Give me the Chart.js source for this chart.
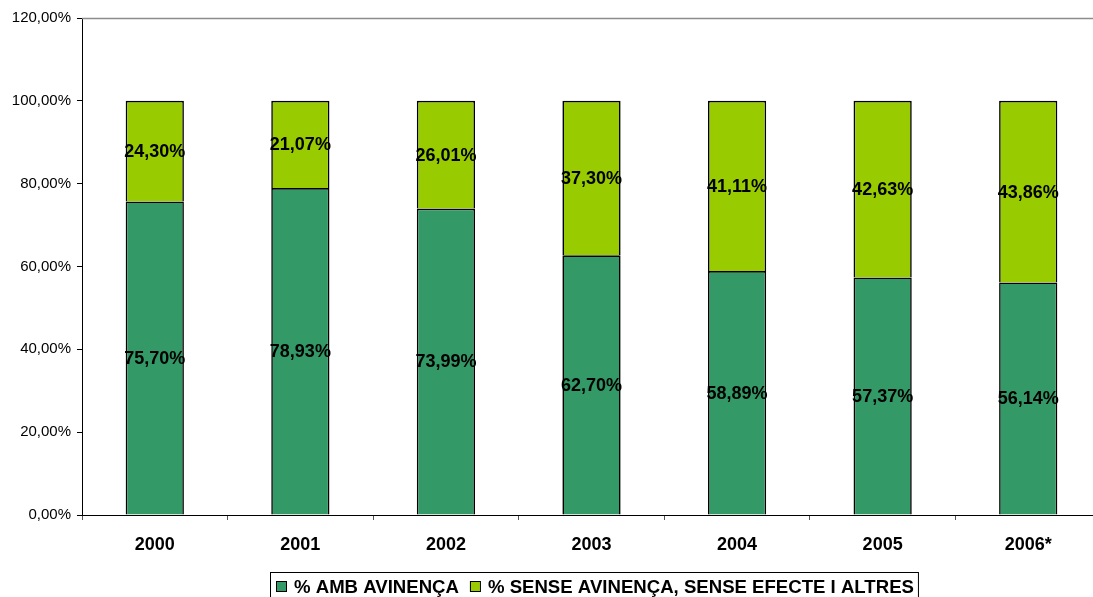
<!DOCTYPE html>
<html>
<head>
<meta charset="utf-8">
<script src="https://cdn.jsdelivr.net/npm/chart.js@4.4.0/dist/chart.umd.min.js"></script>
<style>
  html, body { margin: 0; padding: 0; overflow: hidden; background: #fff; }
  #wrap { width: 1101px; height: 597px; position: relative; }
</style>
</head>
<body>
<div id="wrap"><canvas id="myChart"></canvas></div>
<script>
// Years and shares
const years = ['2000', '2001', '2002', '2003', '2004', '2005', '2006*'];
const ambAvinenca = [75.70, 78.93, 73.99, 62.70, 58.89, 57.37, 56.14];
const senseAvinenca = [24.30, 21.07, 26.01, 37.30, 41.11, 42.63, 43.86];
const yTicks = [0, 20, 40, 60, 80, 100, 120];

const FONT = "'Liberation Sans', Arial, sans-serif";

// formats 75.7 -> "75,70%"
let pct = (v) => v.toFixed(2).replace('.', ',') + '%';

// labels in the middle of each bar segment
const segmentLabels = {
  id: 'segmentLabels',
  afterDatasetsDraw(chart) {
    const ctx = chart.ctx;
    ctx.save();
    ctx.font = 'bold 18px ' + FONT;
    ctx.fillStyle = '#000';
    ctx.textAlign = 'center';
    ctx.textBaseline = 'middle';
    chart.data.datasets.forEach((ds, i) => {
      chart.getDatasetMeta(i).data.forEach((bar, j) => {
        ctx.fillText(pct(ds.data[j]), bar.x, (bar.y + bar.base) / 2 + 1);
      });
    });
    ctx.restore();
  }
};

// gray line on top of the plot area
const topLine = {
  id: 'topLine',
  beforeDatasetsDraw(chart) {
    const { ctx, chartArea } = chart;
    ctx.save();
    ctx.strokeStyle = '#8c8c8c';
    ctx.lineWidth = 1.5;
    ctx.beginPath();
    ctx.moveTo(chartArea.left, chartArea.top + 0.5);
    ctx.lineTo(chartArea.right + 5, chartArea.top + 0.5);
    ctx.stroke();
    ctx.restore();
  }
};

// boxed legend at the bottom, centred under the plot
const boxLegend = {
  id: 'boxLegend',
  afterDraw(chart) {
    const { ctx, chartArea } = chart;
    ctx.save();
    ctx.font = 'bold 18.6px ' + FONT;
    const items = chart.data.datasets.map(ds => ({
      text: ds.label, color: ds.backgroundColor, w: ctx.measureText(ds.label).width
    }));
    const pad = 6, sq = 10, gapSq = 8, gapItem = 11;
    let total = pad * 2 - 2;
    items.forEach((it, i) => { total += sq + gapSq + it.w + (i > 0 ? gapItem : 0); });
    const cx = (chartArea.left + chartArea.right) / 2 + 2;
    let x = Math.round(cx - total / 2);
    const top = 572;
    ctx.strokeStyle = '#000';
    ctx.lineWidth = 1;
    ctx.strokeRect(x + 0.5, top + 0.5, total, 40);
    x += pad;
    ctx.textBaseline = 'middle';
    ctx.textAlign = 'left';
    items.forEach((it, i) => {
      if (i > 0) x += gapItem;
      ctx.fillStyle = it.color;
      ctx.fillRect(x, 581, sq, sq);
      ctx.strokeStyle = '#000';
      ctx.strokeRect(x + 0.5, 581.5, sq, sq);
      x += sq + gapSq;
      ctx.fillStyle = '#000';
      ctx.fillText(it.text, x, 588);
      x += it.w;
    });
    ctx.restore();
  }
};

const context = document.getElementById('myChart').getContext('2d');
const myChart = new Chart(context, {
  type: 'bar',
  data: {
    labels: years,
    datasets: [
      {
        label: '% AMB AVINENÇA',
        data: ambAvinenca,
        backgroundColor: '#339966',
        borderColor: '#000',
        borderWidth: 1.6,
        barPercentage: 0.4,
        categoryPercentage: 1.0
      },
      {
        label: '% SENSE AVINENÇA, SENSE EFECTE I ALTRES',
        data: senseAvinenca,
        backgroundColor: '#99cc00',
        borderColor: '#000',
        borderWidth: 1.6,
        barPercentage: 0.4,
        categoryPercentage: 1.0
      }
    ]
  },
  options: {
    responsive: true,
    maintainAspectRatio: false,
    animation: false,
    layout: { padding: { top: 18, right: 0, bottom: 32, left: 0 } },
    plugins: {
      legend: { display: false },
      tooltip: { enabled: false }
    },
    scales: {
      x: {
        stacked: true,
        afterFit: (scale) => { scale.height = 50; },
        grid: {
          offset: true,
          drawOnChartArea: false,
          drawTicks: true,
          tickLength: 5,
          color: '#555'
        },
        border: { color: '#000', width: 1 },
        ticks: {
          color: '#000',
          font: { family: FONT, size: 18, weight: 'bold' },
          padding: 14
        }
      },
      y: {
        stacked: true,
        min: 0,
        max: 120,
        afterFit: (scale) => { scale.width = 82; },
        afterBuildTicks: (scale) => { scale.ticks = yTicks.map(v => ({ value: v })); },
        grid: {
          drawOnChartArea: false,
          drawTicks: true,
          tickLength: 5,
          color: '#000'
        },
        border: { color: '#000', width: 1 },
        ticks: {
          color: '#000',
          font: { family: FONT, size: 15 },
          padding: 6,
          callback: (v) => pct(v)
        }
      }
    }
  },
  plugins: [topLine, segmentLabels, boxLegend]
});
</script>
</body>
</html>
